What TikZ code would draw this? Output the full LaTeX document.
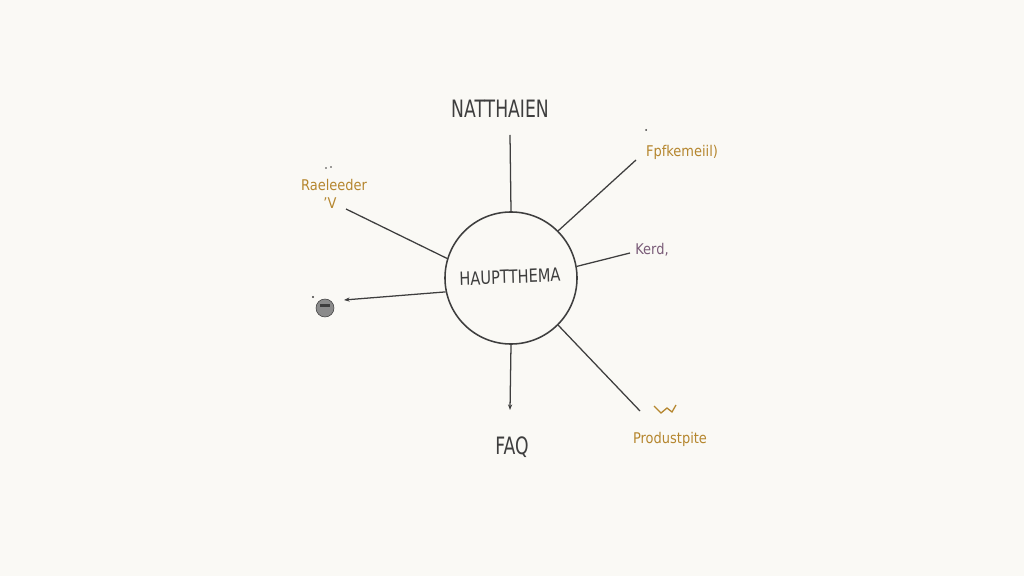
\documentclass[tikz,border=0pt]{standalone}
\usepackage{fontspec}
\setmainfont{DejaVu Sans}
\usetikzlibrary{arrows.meta}
\definecolor{bg}{HTML}{FAF9F5}
\definecolor{ink}{HTML}{3E3E3E}
\definecolor{ochre}{HTML}{B5862E}
\definecolor{plum}{HTML}{7A5C78}
\tikzset{
  conn/.style={draw=ink, line width=0.9pt},
  arr/.style={conn, -{Stealth[length=4pt,width=3pt]}},
  big/.style={text=ink, font=\fontsize{17}{17}\selectfont, xscale=0.72, inner sep=0pt},
  small/.style={text=ochre, font=\fontsize{10.5}{10.5}\selectfont, xscale=0.88, inner sep=0pt},
}
\begin{document}
\begin{tikzpicture}[x=0.025cm, y=-0.025cm]
\fill[bg] (0,0) rectangle (1024,576);
\useasboundingbox (0,0) rectangle (1024,576);
% central topic
\node[draw=ink, line width=1.1pt, circle, minimum size=3.3cm, inner sep=0pt] (c) at (511,278) {};
\node[text=ink, font=\fontsize{13}{13}\selectfont, xscale=0.8, rotate=2, inner sep=0pt] (ct) at (510,277) {HAUPTTHEMA};
% labels
\node[big] (n) at (500,109) {NATTHAIEN};
\node[big] (faq) at (512,447) {FAQ};
\node[small] (f) at (682,152) {Fpfkemeiil)};
\node[small] (r) at (334,185) {Raeleeder};
\node[small] (rv) at (330,203) {'V};
\node[small, text=plum] (k) at (652,250) {Kerd,};
\node[small] (p) at (670,439) {Produstpite};
\node[draw=ink, fill=ink!60, circle, minimum size=0.45cm, inner sep=0pt] (b) at (325,308) {};
\fill[ink] (b.center) ++(-5,-4) rectangle ++(10,3);
\fill[ink] (313,297) circle (1.2);
\fill[ink] (646,130) circle (1);
\fill[ink] (326,168) circle (0.8) (331,167) circle (0.8);
\coordinate (sq) at (664,410);
\draw[ochre, line width=0.9pt] (sq) ++(-10,-4) -- ++(7,7) -- ++(6,-5) -- ++(5,4) -- ++(4,-7);
% connector endpoints
\coordinate (ntop) at (510,135);
\coordinate (fend) at (636,160);
\coordinate (kend) at (630,253);
\coordinate (pend) at (640,411);
\coordinate (fqend) at (510,410);
\coordinate (rend) at (346,209);
\coordinate (bend) at (344,300);
% connectors
\draw[conn] (ntop) -- (c.90);
\draw[conn] (c.45) -- (fend);
\draw[conn] (c.10) -- (kend);
\draw[conn] (c.-45) -- (pend);
\draw[arr] (c.-90) -- (fqend);
\draw[conn] (c.163) -- (rend);
\draw[arr] (c.192) -- (bend);
\end{tikzpicture}
\end{document}
